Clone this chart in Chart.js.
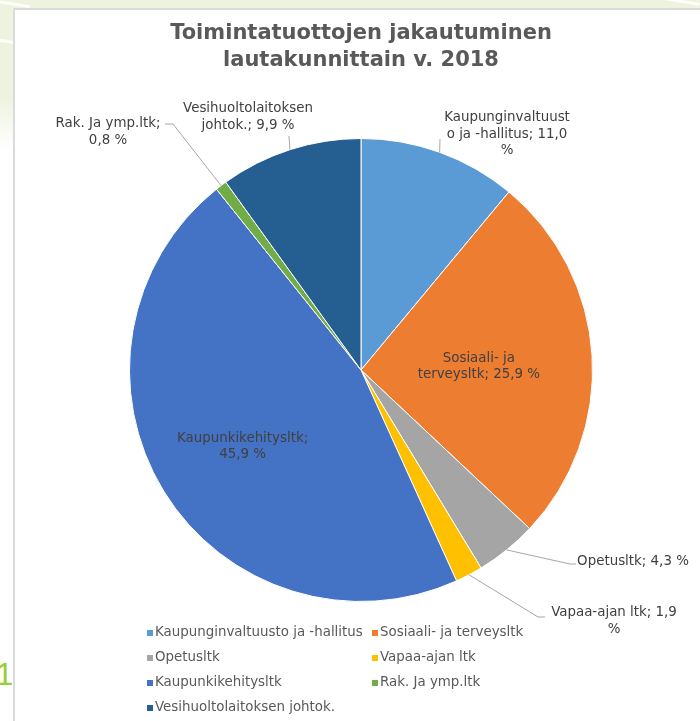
<!DOCTYPE html>
<html>
<head>
<meta charset="utf-8">
<script src="https://cdn.jsdelivr.net/npm/chart.js@4.4.0/dist/chart.umd.min.js"></script>
<style>
  html, body { margin: 0; padding: 0; background: #fff; }
  #wrap { position: relative; width: 700px; height: 721px; overflow: hidden; background: #fff; }
  .vihrea { position: absolute; left: 0; top: 0; width: 700px; height: 9px; background: #edf3df; }
  .vasen { position: absolute; left: 0; top: 0; width: 14px; height: 150px; background: linear-gradient(#edf3df 65%, #fff); }
  .raita { position: absolute; height: 3px; background: #fff; transform: rotate(9deg); opacity: .9; }
  #paneeli { position: absolute; left: 13px; top: 8px; right: -5px; bottom: -5px;
             border-left: 2px solid #dadada; border-top: 2px solid #dadada; background: #fff; }
  #sivu { position: absolute; left: -4px; top: 660px; font: 31px/30px "Liberation Sans", sans-serif; color: #9acd32; }
  canvas { position: absolute; left: 0; top: 0; }
</style>
</head>
<body>
<div id="wrap">
  <div class="vihrea"></div>
  <div class="vasen"></div>
  <div class="raita" style="left:-10px;top:2px;width:40px"></div>
  <div class="raita" style="left:-8px;top:40px;width:30px"></div>
  <div class="raita" style="left:640px;top:-2px;width:60px"></div>
  <div id="paneeli"></div>
  <div id="sivu">1</div>
  <canvas id="grafiikka" width="700" height="721"></canvas>
</div>
<script>
const otsikko = ["Toimintatuottojen jakautuminen", "lautakunnittain v. 2018"];
const lautakunnat = [
  "Kaupunginvaltuusto ja -hallitus",
  "Sosiaali- ja terveysltk",
  "Opetusltk",
  "Vapaa-ajan ltk",
  "Kaupunkikehitysltk",
  "Rak. Ja ymp.ltk",
  "Vesihuoltolaitoksen johtok."
];
const osuudet = [11.0, 25.9, 4.3, 1.9, 45.9, 0.8, 9.9];
const varit = ["#5b9bd5", "#ed7d31", "#a5a5a5", "#ffc000", "#4472c4", "#70ad47", "#255e91"];

// selitteiden paikat: sisa = osuus säteestä, muuten tekstin keskikohta ja viivan taitekohdat
const sijoitus = [
  { w: 130, x: 507, y: 118, viiva: [[440, 139]] },
  { w: 128, sisa: 0.51, dy: 4 },
  { w: 135, x: 633, y: 562, viiva: [[570, 564], [576, 564]] },
  { w: 130, x: 614, y: 613, viiva: [[538, 617], [545, 617]] },
  { w: 135, sisa: 0.6, dy: 4 },
  { w: 120, x: 108, y: 124, viiva: [[173, 124], [165, 124]] },
  { w: 135, x: 248, y: 109, viiva: [[289, 136]] }
];

const riviKorkeus = 16.5;
const fontti = '"DejaVu Sans", Verdana, sans-serif';

function teksti(i) {
  return lautakunnat[i] + "; " + osuudet[i].toFixed(1).replace(".", ",") + " %";
}

// rivitys kuten Excel: sanoittain, liian pitkä sana katkaistaan merkeittäin
function rivita(ctx, s, maxW) {
  const sanat = s.split(" ");
  const rivit = [];
  let rivi = "";
  for (let sana of sanat) {
    const koe = rivi ? rivi + " " + sana : sana;
    if (ctx.measureText(koe).width <= maxW) { rivi = koe; continue; }
    if (rivi) { rivit.push(rivi); rivi = ""; }
    while (ctx.measureText(sana).width > maxW) {
      let n = sana.length;
      while (n > 1 && ctx.measureText(sana.slice(0, n)).width > maxW) n--;
      rivit.push(sana.slice(0, n));
      sana = sana.slice(n);
    }
    rivi = sana;
  }
  if (rivi) rivit.push(rivi);
  return rivit;
}

const piirto = {
  id: "piirto",
  afterDraw(chart) {
    const ctx = chart.ctx;
    const kaaret = chart.getDatasetMeta(0).data;
    ctx.save();
    ctx.textAlign = "center";
    ctx.textBaseline = "middle";

    ctx.fillStyle = "#595959";
    ctx.font = "bold 21px " + fontti;
    otsikko.forEach((r, i) => ctx.fillText(r, 361, 34 + i * 27));

    ctx.font = "13.4px " + fontti;
    kaaret.forEach((kaari, i) => {
      const p = kaari.getProps(["x", "y", "startAngle", "endAngle", "outerRadius"], true);
      const keski = (p.startAngle + p.endAngle) / 2;
      const L = sijoitus[i];
      const rivit = rivita(ctx, teksti(i), L.w);
      let cx, cy;
      if (L.sisa) {
        cx = p.x + Math.cos(keski) * p.outerRadius * L.sisa;
        cy = p.y + Math.sin(keski) * p.outerRadius * L.sisa - (rivit.length - 1) * riviKorkeus / 2 + (L.dy || 0);
      } else {
        ctx.strokeStyle = "#a6a6a6";
        ctx.lineWidth = 1;
        ctx.beginPath();
        ctx.moveTo(p.x + Math.cos(keski) * p.outerRadius, p.y + Math.sin(keski) * p.outerRadius);
        L.viiva.forEach(([x, y]) => ctx.lineTo(x, y));
        ctx.stroke();
        cx = L.x;
        cy = L.y;
      }
      ctx.fillStyle = "#404040";
      rivit.forEach((r, j) => ctx.fillText(r, cx, cy + j * riviKorkeus));
    });

    // selite kahdessa sarakkeessa
    ctx.textAlign = "left";
    lautakunnat.forEach((nimi, i) => {
      const x = [147, 372][i % 2];
      const y = 633 + Math.floor(i / 2) * 25;
      ctx.fillStyle = varit[i];
      ctx.fillRect(x, y - 3, 6, 6);
      ctx.fillStyle = "#595959";
      ctx.fillText(nimi, x + 8, y);
    });
    ctx.restore();
  }
};

new Chart(document.getElementById("grafiikka"), {
  type: "pie",
  data: {
    labels: lautakunnat,
    datasets: [{
      data: osuudet,
      backgroundColor: varit,
      borderColor: "#ffffff",
      borderWidth: 1
    }]
  },
  options: {
    responsive: false,
    animation: false,
    layout: { padding: { left: 129, right: 107, top: 138, bottom: 119 } },
    plugins: {
      legend: { display: false },
      title: { display: false },
      tooltip: { enabled: false }
    }
  },
  plugins: [piirto]
});
</script>
</body>
</html>
